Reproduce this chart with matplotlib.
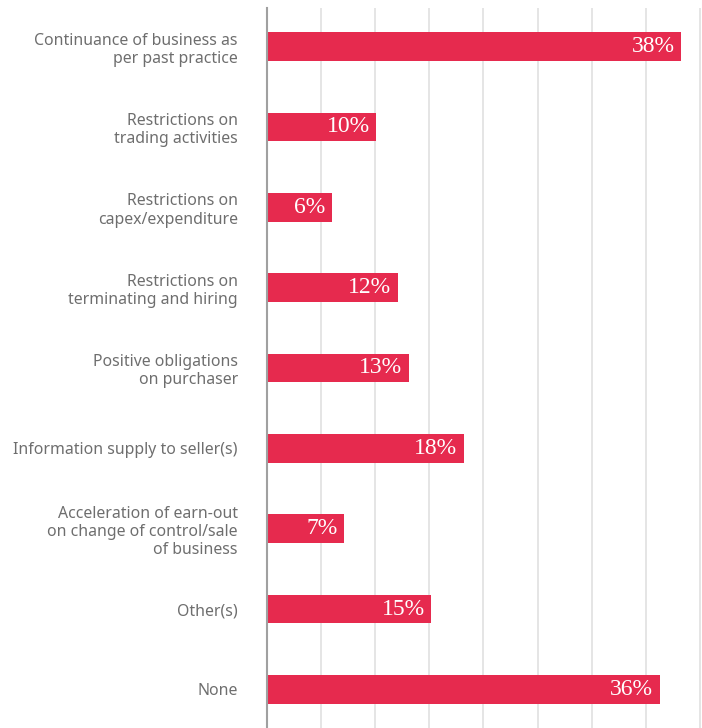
import matplotlib.pyplot as plt

categories = [
    "Continuance of business as\nper past practice",
    "Restrictions on\ntrading activities",
    "Restrictions on\ncapex/expenditure",
    "Restrictions on\nterminating and hiring",
    "Positive obligations\non purchaser",
    "Information supply to seller(s)",
    "Acceleration of earn-out\non change of control/sale\nof business",
    "Other(s)",
    "None",
]
values = [38.3, 10.1, 6.0, 12.1, 13.1, 18.2, 7.1, 15.2, 36.3]
labels = ["38%", "10%", "6%", "12%", "13%", "18%", "7%", "15%", "36%"]

bar_color = "#E62A4E"

fig = plt.figure(figsize=(7.02, 7.28), dpi=100)
ax = fig.add_axes([267 / 702, 0, 435 / 702, 1 - 8 / 728])

y = list(range(len(categories)))
ax.barh(y, values, height=0.355, color=bar_color, zorder=3)

for yi, v, lab in zip(y, values, labels):
    ax.text(v - 0.6, yi, lab, ha="right", va="center", color="white",
            family="Liberation Serif", fontsize=17, zorder=4)

ax.set_yticks(y)
ax.set_yticklabels(categories, family="Noto Sans", fontsize=11.4,
                   color="#6e6e6e", linespacing=1.2)
ax.tick_params(axis="y", length=0, pad=21)
ax.tick_params(axis="x", length=0, labelbottom=False)
ax.set_ylim(8.48, -0.48)
ax.set_xlim(0, 40.2)
ax.set_xticks(range(5, 45, 5))
ax.grid(axis="x", color="#e0e0e0", linewidth=1.2, zorder=0)

for s in ["top", "right", "bottom"]:
    ax.spines[s].set_visible(False)
ax.spines["left"].set_color("#a0a0a0")
ax.spines["left"].set_linewidth(1.5)
ax.spines["left"].set_zorder(5)

fig.savefig("out.png", dpi=100)
